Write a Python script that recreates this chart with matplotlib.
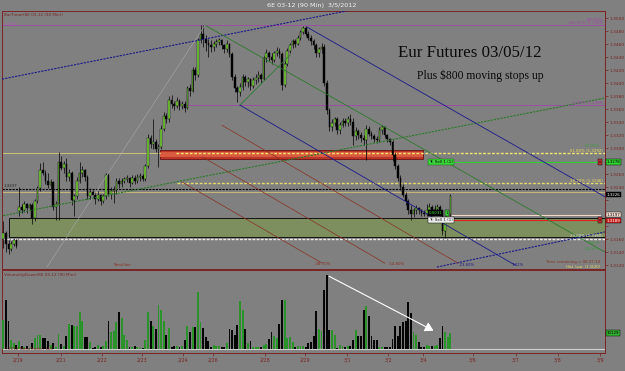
import matplotlib
matplotlib.use('Agg')
import matplotlib.pyplot as plt
import numpy as np
from matplotlib.patches import Rectangle

# ---------------- data (90-min bars, 6E 03-12) ----------------
opens = [1.3160, 1.3170, 1.3152, 1.3145, 1.3152, 1.3158, 1.3203, 1.3210, 1.3205, 1.3214,
         1.3208, 1.3212, 1.3192, 1.3218, 1.3238, 1.3266, 1.3262, 1.3250, 1.3243, 1.3248,
         1.3210, 1.3214, 1.3278, 1.3270, 1.3276, 1.3256, 1.3262, 1.3220, 1.3226, 1.3250,
         1.3262, 1.3266, 1.3255, 1.3226, 1.3232, 1.3228, 1.3222, 1.3228, 1.3218, 1.3226,
         1.3258, 1.3230, 1.3234, 1.3236, 1.3250, 1.3244, 1.3250, 1.3252, 1.3254, 1.3246,
         1.3254, 1.3250, 1.3255, 1.3257, 1.3253, 1.3272, 1.3316, 1.3306, 1.3310, 1.3298,
         1.3302, 1.3330, 1.3350, 1.3344, 1.3374, 1.3368, 1.3365, 1.3372, 1.3364, 1.3368,
         1.3362, 1.3392, 1.3388, 1.3420, 1.3412, 1.3466, 1.3476, 1.3468, 1.3462, 1.3458,
         1.3455, 1.3460, 1.3463, 1.3466, 1.3458, 1.3452, 1.3460, 1.3445, 1.3410, 1.3392,
         1.3386, 1.3394, 1.3410, 1.3402, 1.3406, 1.3396, 1.3404, 1.3408, 1.3412, 1.3406,
         1.3438, 1.3446, 1.3440, 1.3436, 1.3446, 1.3450, 1.3444, 1.3397, 1.3430, 1.3450,
         1.3458, 1.3464, 1.3460, 1.3470, 1.3478, 1.3484, 1.3476, 1.3470, 1.3464, 1.3458,
         1.3446, 1.3452, 1.3455, 1.3400, 1.3358, 1.3332, 1.3338, 1.3344, 1.3328, 1.3336,
         1.3342, 1.3338, 1.3344, 1.3340, 1.3318, 1.3326, 1.3320, 1.3316, 1.3312, 1.3330,
         1.3322, 1.3318, 1.3314, 1.3312, 1.3328, 1.3332, 1.3320, 1.3314, 1.3310, 1.3290,
         1.3272, 1.3254, 1.3240, 1.3228, 1.3218, 1.3205, 1.3198, 1.3204, 1.3208, 1.3204,
         1.3200, 1.3198, 1.3204, 1.3210, 1.3202, 1.3206, 1.3210, 1.3200, 1.3172, 1.3190,
         1.3198]
highs = [1.3188, 1.3172, 1.3158, 1.3157, 1.3160, 1.3160, 1.3240, 1.3214, 1.3218, 1.3216,
         1.3215, 1.3215, 1.3222, 1.3242, 1.3277, 1.3278, 1.3266, 1.3262, 1.3252, 1.3250,
         1.3218, 1.3294, 1.3288, 1.3280, 1.3285, 1.3268, 1.3264, 1.3230, 1.3256, 1.3278,
         1.3272, 1.3268, 1.3258, 1.3238, 1.3236, 1.3232, 1.3234, 1.3230, 1.3230, 1.3262,
         1.3262, 1.3240, 1.3242, 1.3254, 1.3254, 1.3254, 1.3256, 1.3258, 1.3256, 1.3258,
         1.3258, 1.3260, 1.3262, 1.3260, 1.3276, 1.3322, 1.3320, 1.3345, 1.3314, 1.3306,
         1.3336, 1.3356, 1.3354, 1.3380, 1.3382, 1.3372, 1.3378, 1.3376, 1.3372, 1.3372,
         1.3396, 1.3398, 1.3424, 1.3424, 1.3470, 1.3490, 1.3490, 1.3474, 1.3468, 1.3466,
         1.3464, 1.3467, 1.3470, 1.3468, 1.3460, 1.3466, 1.3462, 1.3448, 1.3414, 1.3396,
         1.3400, 1.3414, 1.3412, 1.3410, 1.3408, 1.3410, 1.3414, 1.3418, 1.3416, 1.3442,
         1.3452, 1.3450, 1.3446, 1.3450, 1.3456, 1.3454, 1.3448, 1.3434, 1.3454, 1.3462,
         1.3468, 1.3468, 1.3474, 1.3482, 1.3488, 1.3487, 1.3480, 1.3474, 1.3468, 1.3462,
         1.3456, 1.3462, 1.3460, 1.3404, 1.3362, 1.3344, 1.3348, 1.3348, 1.3340, 1.3346,
         1.3346, 1.3350, 1.3352, 1.3346, 1.3332, 1.3330, 1.3324, 1.3320, 1.3336, 1.3334,
         1.3326, 1.3322, 1.3318, 1.3332, 1.3336, 1.3334, 1.3322, 1.3316, 1.3312, 1.3294,
         1.3276, 1.3258, 1.3244, 1.3232, 1.3222, 1.3212, 1.3208, 1.3212, 1.3210, 1.3206,
         1.3204, 1.3214, 1.3216, 1.3212, 1.3212, 1.3214, 1.3212, 1.3204, 1.3196, 1.3204,
         1.3230]
lows = [1.3146, 1.3140, 1.3137, 1.3142, 1.3150, 1.3147, 1.3196, 1.3200, 1.3202, 1.3200,
        1.3204, 1.3183, 1.3188, 1.3215, 1.3234, 1.3258, 1.3245, 1.3238, 1.3237, 1.3205,
        1.3190, 1.3189, 1.3266, 1.3262, 1.3250, 1.3250, 1.3212, 1.3196, 1.3222, 1.3246,
        1.3255, 1.3250, 1.3222, 1.3220, 1.3224, 1.3214, 1.3218, 1.3213, 1.3216, 1.3222,
        1.3226, 1.3222, 1.3215, 1.3230, 1.3238, 1.3240, 1.3246, 1.3248, 1.3240, 1.3244,
        1.3244, 1.3246, 1.3250, 1.3250, 1.3250, 1.3270, 1.3300, 1.3298, 1.3294, 1.3271,
        1.3298, 1.3326, 1.3338, 1.3340, 1.3362, 1.3358, 1.3362, 1.3358, 1.3360, 1.3356,
        1.3360, 1.3380, 1.3386, 1.3405, 1.3410, 1.3462, 1.3455, 1.3450, 1.3440, 1.3448,
        1.3450, 1.3455, 1.3458, 1.3452, 1.3446, 1.3448, 1.3440, 1.3405, 1.3386, 1.3371,
        1.3380, 1.3390, 1.3396, 1.3394, 1.3390, 1.3392, 1.3398, 1.3402, 1.3400, 1.3404,
        1.3432, 1.3434, 1.3430, 1.3432, 1.3442, 1.3438, 1.3389, 1.3394, 1.3426, 1.3446,
        1.3454, 1.3455, 1.3458, 1.3466, 1.3475, 1.3472, 1.3466, 1.3458, 1.3452, 1.3440,
        1.3440, 1.3446, 1.3396, 1.3352, 1.3326, 1.3326, 1.3334, 1.3322, 1.3322, 1.3332,
        1.3334, 1.3334, 1.3336, 1.3305, 1.3312, 1.3314, 1.3310, 1.3305, 1.3282, 1.3318,
        1.3314, 1.3310, 1.3308, 1.3310, 1.3322, 1.3316, 1.3310, 1.3304, 1.3280, 1.3268,
        1.3250, 1.3236, 1.3224, 1.3212, 1.3198, 1.3189, 1.3194, 1.3198, 1.3198, 1.3196,
        1.3195, 1.3196, 1.3200, 1.3198, 1.3198, 1.3202, 1.3196, 1.3166, 1.3162, 1.3186,
        1.3196]
closes = [1.3170, 1.3152, 1.3145, 1.3152, 1.3158, 1.3150, 1.3210, 1.3205, 1.3214, 1.3208,
          1.3212, 1.3192, 1.3218, 1.3238, 1.3266, 1.3262, 1.3250, 1.3243, 1.3248, 1.3210,
          1.3214, 1.3278, 1.3270, 1.3276, 1.3256, 1.3262, 1.3220, 1.3226, 1.3250, 1.3262,
          1.3266, 1.3255, 1.3226, 1.3232, 1.3228, 1.3222, 1.3228, 1.3218, 1.3226, 1.3258,
          1.3230, 1.3234, 1.3236, 1.3250, 1.3244, 1.3250, 1.3252, 1.3254, 1.3246, 1.3254,
          1.3250, 1.3255, 1.3257, 1.3253, 1.3272, 1.3316, 1.3306, 1.3310, 1.3298, 1.3302,
          1.3330, 1.3350, 1.3344, 1.3374, 1.3368, 1.3365, 1.3372, 1.3364, 1.3368, 1.3362,
          1.3392, 1.3388, 1.3420, 1.3412, 1.3466, 1.3476, 1.3468, 1.3462, 1.3458, 1.3455,
          1.3460, 1.3463, 1.3466, 1.3458, 1.3452, 1.3460, 1.3445, 1.3410, 1.3392, 1.3386,
          1.3394, 1.3410, 1.3402, 1.3406, 1.3396, 1.3404, 1.3408, 1.3412, 1.3406, 1.3438,
          1.3446, 1.3440, 1.3436, 1.3446, 1.3450, 1.3444, 1.3397, 1.3430, 1.3450, 1.3458,
          1.3464, 1.3460, 1.3470, 1.3478, 1.3484, 1.3476, 1.3470, 1.3464, 1.3458, 1.3446,
          1.3452, 1.3455, 1.3400, 1.3358, 1.3332, 1.3338, 1.3344, 1.3328, 1.3336, 1.3342,
          1.3338, 1.3344, 1.3340, 1.3318, 1.3326, 1.3320, 1.3316, 1.3312, 1.3330, 1.3322,
          1.3318, 1.3314, 1.3312, 1.3328, 1.3332, 1.3320, 1.3314, 1.3310, 1.3290, 1.3272,
          1.3254, 1.3240, 1.3228, 1.3218, 1.3205, 1.3198, 1.3204, 1.3208, 1.3204, 1.3200,
          1.3198, 1.3204, 1.3210, 1.3202, 1.3206, 1.3210, 1.3200, 1.3172, 1.3190, 1.3198,
          1.3226]
volumes = [18570, 30810, 17940, 5910, 3800, 2740, 4850, 2110, 1270, 2110,
           630, 3800, 6960, 9070, 9070, 6960, 6960, 4850, 2740, 3800,
           1270, 9710, 3380, 2110, 8020, 15830, 15400, 14350, 14770, 23210,
           17510, 7600, 7600, 4220, 630, 1270, 2740, 1270, 2110, 5280,
           17510, 10550, 11180, 16880, 23210, 19620, 9070, 5490, 1270, 1270,
           2110, 1270, 630, 630, 5910, 23210, 17940, 14350, 12660, 28060,
           24480, 17510, 9070, 13290, 1270, 2110, 1690, 1270, 2110, 5910,
           14350, 10550, 13720, 13720, 35870, 16880, 13290, 7600, 4850, 1270,
           2740, 1690, 2110, 1270, 1270, 3800, 12660, 11820, 9070, 15400,
           30600, 24480, 12660, 3800, 4850, 1270, 1270, 1270, 1270, 2740,
           3380, 6330, 10550, 8440, 6960, 16040, 30810, 30810, 6960, 7390,
           4220, 1270, 2110, 2110, 2110, 1270, 3800, 4220, 8020, 23840,
           12660, 11180, 37140, 47050, 12240, 12240, 9070, 630, 2740, 2110,
           1270, 2110, 1690, 5910, 11820, 8440, 8440, 24480, 27430, 20680,
           8020, 5910, 5910, 1270, 1270, 1270, 1270, 1270, 6330, 14350,
           8440, 14350, 16880, 17510, 29540, 22790, 10550, 9070, 4220, 1270,
           1270, 2740, 2110, 2110, 2110, 2530, 6960, 14350, 10550, 7600,
           10129]

date_labels = ['2/19', '2/21', '2/22', '2/23', '2/24', '2/26', '2/28', '2/29',
               '3/1', '3/2', '3/4', '3/6', '3/7', '3/8', '3/9']
date_pos = [5.6, 21.9, 37.5, 52.7, 68.3, 79.7, 99.5, 114.7,
            130.7, 146.3, 159.6, 178.6, 194.9, 210.9, 226.9]
price_ticks = [1.3120, 1.3140, 1.3160, 1.3180, 1.3200, 1.3220, 1.3240, 1.3260, 1.3280, 1.3300,
               1.3320, 1.3340, 1.3360, 1.3380, 1.3400, 1.3420, 1.3440, 1.3460, 1.3480, 1.3500]
hidden_ticks = [1.3280, 1.3220, 1.3200, 1.3180]   # covered by price flags in the reference

# drawing-tool objects (bar index, price)
trend_navy_dash_top = [(-0.5, 1.3406), (130.7, 1.3511)]
trend_green_down = [(76.7, 1.3489), (228.8, 1.3140)]
trend_green_dash_up = [(-1.3, 1.3195), (228.8, 1.3377)]
trend_green_short = [(90.0, 1.3366), (109.0, 1.3443)]
trend_navy_a = [(90.0, 1.3366), (194.6, 1.3120)]
trend_navy_b = [(115.5, 1.3486), (228.8, 1.3225)]
trend_navy_dash_low = [(164.9, 1.3117), (228.8, 1.3171)]
trend_brown_1 = [(83.2, 1.3335), (172.9, 1.3123)]
trend_brown_2 = [(75.9, 1.3286), (145.1, 1.3123)]
trend_brown_3 = [(67.9, 1.3248), (121.2, 1.3123)]
trend_gray = [(16.6, 1.3117), (76.7, 1.3489)]

lvl_fib100 = 1.3489
lvl_fib0 = 1.3366
lvl_fib618 = 1.3292
lvl_fib382 = 1.3246
lvl_black = 1.3237
lvl_olive = 1.3232
lvl_white = 1.3160
lvl_target = 1.3278
lvl_entry = 1.3197
lvl_stop = 1.3189
red_zone = (59.6, 159.6, 1.3283, 1.3297)
green_zone = (2.2, 228.8, 1.3163, 1.3192)

# ---------------- figure ----------------
W, H = 625, 371
BG = '#808080'
MAROON = '#7a2424'


def fx(px):
    return px / W


def fy(py):
    return 1 - py / H


fig = plt.figure(figsize=(6.25, 3.71), dpi=100, facecolor=BG)
axp = fig.add_axes([fx(2), fy(269), fx(605) - fx(2), fy(11) - fy(269)])
axv = fig.add_axes([fx(2), fy(353), fx(605) - fx(2), fy(270) - fy(353)])
XL = (-0.49, 228.8)
for ax in (axp, axv):
    ax.set_facecolor(BG)
    ax.set_xlim(*XL)
    for s in ax.spines.values():
        s.set_color(MAROON)
        s.set_linewidth(0.7)

axp.set_ylim(1.31140, 1.35108)
axp.set_xticks([])
axp.yaxis.tick_right()
axp.set_yticks(price_ticks)
axp.set_yticklabels(['' if any(abs(t - h) < 1e-6 for h in hidden_ticks) else f'{t:.4f}'
                     for t in price_ticks], fontsize=3.2, color=MAROON)
axp.tick_params(axis='y', colors=MAROON, length=2, width=0.5, pad=1, labelcolor=MAROON)

idx = np.arange(len(closes))
o = np.array(opens)
c = np.array(closes)
hi = np.array(highs)
lo = np.array(lows)
up = c >= o

# zones and levels (behind candles)
x0, x1, p0, p1 = red_zone
axp.add_patch(Rectangle((x0, p0), x1 - x0, p1 - p0, fc='#b8352a', ec='#6a1010', lw=0.6, zorder=1))
axp.add_patch(Rectangle((x0, p0 + 0.00035), x1 - x0, p1 - p0 - 0.0007, fc='#d95a3e', ec='none', zorder=1))
x0, x1, p0, p1 = green_zone
axp.add_patch(Rectangle((x0, p0), x1 - x0, p1 - p0, fc='#7d8f5e', ec='#101010', lw=0.7, zorder=1))

axp.plot([XL[0], 59.6], [lvl_fib618] * 2, color='#d8d070', lw=0.6, zorder=2)
axp.plot([65.5, XL[1]], [lvl_fib618] * 2, color='#f2e870', lw=1.0, dashes=(2, 1.2), zorder=2)
axp.plot([66.0, XL[1]], [lvl_fib382] * 2, color='#e8dc68', lw=1.0, dashes=(2, 1.2), zorder=2)
axp.plot(XL, [lvl_black] * 2, color='#000000', lw=0.8, dashes=(2, 1), zorder=2)
axp.plot(XL, [lvl_olive] * 2, color='#c4b676', lw=0.8, zorder=2)
axp.plot(XL, [lvl_white] * 2, color='#ececec', lw=1.0, dashes=(2, 1), zorder=2)
axp.plot([XL[0], XL[1]], [lvl_fib100] * 2, color='#a048a8', lw=0.6, zorder=2)
axp.plot([69.8, XL[1]], [lvl_fib0] * 2, color='#a048a8', lw=0.6, zorder=2)
axp.plot([170.6, 227.0], [lvl_target] * 2, color='#30d030', lw=0.8, zorder=2)
axp.plot([170.6, 227.0], [lvl_entry] * 2, color='#f2d8c8', lw=0.8, zorder=2)
axp.plot([170.6, 227.0], [lvl_stop] * 2, color='#dd2020', lw=0.8, zorder=2)

# candles
axp.vlines(idx, lo, hi, color='black', lw=0.5, zorder=3)
body_b = np.minimum(o, c)
body_h = np.maximum(np.abs(c - o), 0.00012)
axp.bar(idx, body_h, bottom=body_b, width=0.65,
        color=np.where(up, '#80e03c', '#000000'), edgecolor='black', linewidth=0.3, zorder=4)

# trend lines
def tl(pts, color, lw=0.6, **kw):
    (a, b), (cc, d) = pts
    axp.plot([a, cc], [b, d], color=color, lw=lw, zorder=5, **kw)

tl(trend_navy_dash_top, '#1a1a8a', lw=0.8, dashes=(2, 1))
tl(trend_green_down, '#2d7a2d')
tl(trend_green_dash_up, '#2a7a2a', lw=0.8, dashes=(2, 1))
tl(trend_green_short, '#2d7a2d')
tl(trend_navy_a, '#1a1a8a')
tl(trend_navy_b, '#1a1a8a')
tl(trend_navy_dash_low, '#1a1a8a', lw=0.8, dashes=(2, 1))
tl(trend_brown_1, '#8a3020', lw=0.5)
tl(trend_brown_2, '#8a3020', lw=0.5)
tl(trend_brown_3, '#8a3020', lw=0.5)
tl(trend_gray, '#a8a8a8', lw=0.4)

# volume panel
axv.set_ylim(-2530, 50000)
axv.set_yticks([])
axv.bar(idx, volumes, width=0.72, color=np.where(up, '#2a942a', '#050505'), zorder=3)
axv.axhline(0, color='#cfcfcf', lw=0.8, zorder=2)
axv.set_xticks(date_pos)
axv.set_xticklabels(date_labels, fontsize=3.4, color=MAROON)
axv.tick_params(axis='x', colors=MAROON, length=2, width=0.5, pad=1.5, labelcolor=MAROON)
axv.annotate('', xy=(164.5, 10800), xytext=(123.0, 46800),
             arrowprops=dict(arrowstyle='-|>,head_length=0.5,head_width=0.3', color='white', lw=0.8), zorder=6)

# ---------------- text ----------------
def ptext(px, py, s, **kw):
    kw.setdefault('fontsize', 3)
    kw.setdefault('va', 'center')
    return fig.text(fx(px), fy(py), s, **kw)

ptext(312, 5, '6E 03-12 (90 Min)  3/5/2012', ha='center', fontsize=4.6, color='#f2f2f2')
ptext(4, 14.5, 'BarTimer(6E 03-12 (90 Min))', color=MAROON, fontsize=3)
ptext(4, 24, '1.3490', color='#b060b0', fontsize=2.8)
ptext(4, 186, '1.3237', color='#202020', fontsize=2.8)
ptext(4, 275, 'VolumeUpDown(6E 03-12 (90 Min))', color=MAROON, fontsize=3)
ptext(4, 349, '\u00a92012 NinjaTrader, LLC', color=MAROON, fontsize=3)
ptext(113, 265, 'Trend line', color='#8a3020', fontsize=2.6)

ptext(470, 53, 'Eur Futures 03/05/12', ha='center', fontsize=12.2, color='#0a0a0a',
      family='Liberation Serif')
ptext(480, 76, 'Plus $800 moving stops up', ha='center', fontsize=8.4, color='#0a0a0a',
      family='Liberation Serif')

ptext(603, 20, '100.00%', ha='right', color='#a048a8', fontsize=2.8)
ptext(603, 23.5, '100.00% (1.3490)', ha='right', color='#a048a8', fontsize=2.8)
ptext(603, 103, '0.00% (1.3366)', ha='right', color='#a048a8', fontsize=2.8)
ptext(600, 146, '50.00%', ha='right', color='#3a9a3a', fontsize=2.8)
ptext(603, 150.5, '61.80% (1.3292)', ha='right', color='#f0e060', fontsize=2.8)
ptext(603, 180.5, '38.20% (1.3246)', ha='right', color='#f0e060', fontsize=2.8)
ptext(603, 236, '23.60% (1.3160)', ha='right', color='#dddddd', fontsize=2.8)
ptext(600, 243, '0.00%', ha='right', color='#3a9a3a', fontsize=2.8)
ptext(600, 249, '-38.20%', ha='right', color='#3a9a3a', fontsize=2.8)
ptext(323, 264, '-38.70%', ha='center', color='#8a3020', fontsize=2.8)
ptext(397, 264, '-54.80%', ha='center', color='#8a3020', fontsize=2.8)
ptext(467, 265, '-23.60%', ha='center', color='#1a1a8a', fontsize=2.8)
ptext(518, 265, '7.62%', ha='center', color='#1a1a8a', fontsize=2.8)
ptext(600, 262.5, 'Time remaining = 00:37:14', ha='right', color='#8a3020', fontsize=2.8)
ptext(600, 266.5, 'Hist. Low  (1.3120)', ha='right', color='#f0e060', fontsize=2.6)

def box(px, py, s, fc, tc, ec='black', ha='left', fs=2.9):
    ptext(px, py, s, ha=ha, color=tc, fontsize=fs,
          bbox=dict(boxstyle='square,pad=0.18', fc=fc, ec=ec, lw=0.3))

box(429, 162, 'Tr: Sell 1 (1)', '#3ad23a', '#000000', ec='#106010')
box(429, 213, '0.0031', '#000000', '#40e040')
box(446, 213, '1', '#40d040', '#000000')
box(429, 220, 'Tr: Sell 1 (1)', '#e8e8e8', '#202020')
box(600, 162, 'x', '#c03030', '#000000', ha='center', fs=2.6)
box(600, 220, 'x', '#c03030', '#000000', ha='center', fs=2.6)
box(607, 162, f'{lvl_target:.4f}', '#30d030', '#000000')
box(607, 194.5, f'{closes[-1]:.4f}', '#000000', '#ffffff')
box(607, 214.5, f'{lvl_entry:.4f}', '#f4dcd0', '#000000')
box(607, 220.5, f'{lvl_stop:.4f}', '#d02020', '#ffffff')
box(607, 333, f'{volumes[-1]}', '#30b030', '#000000')

fig.savefig('out.png', dpi=100, facecolor=BG)
